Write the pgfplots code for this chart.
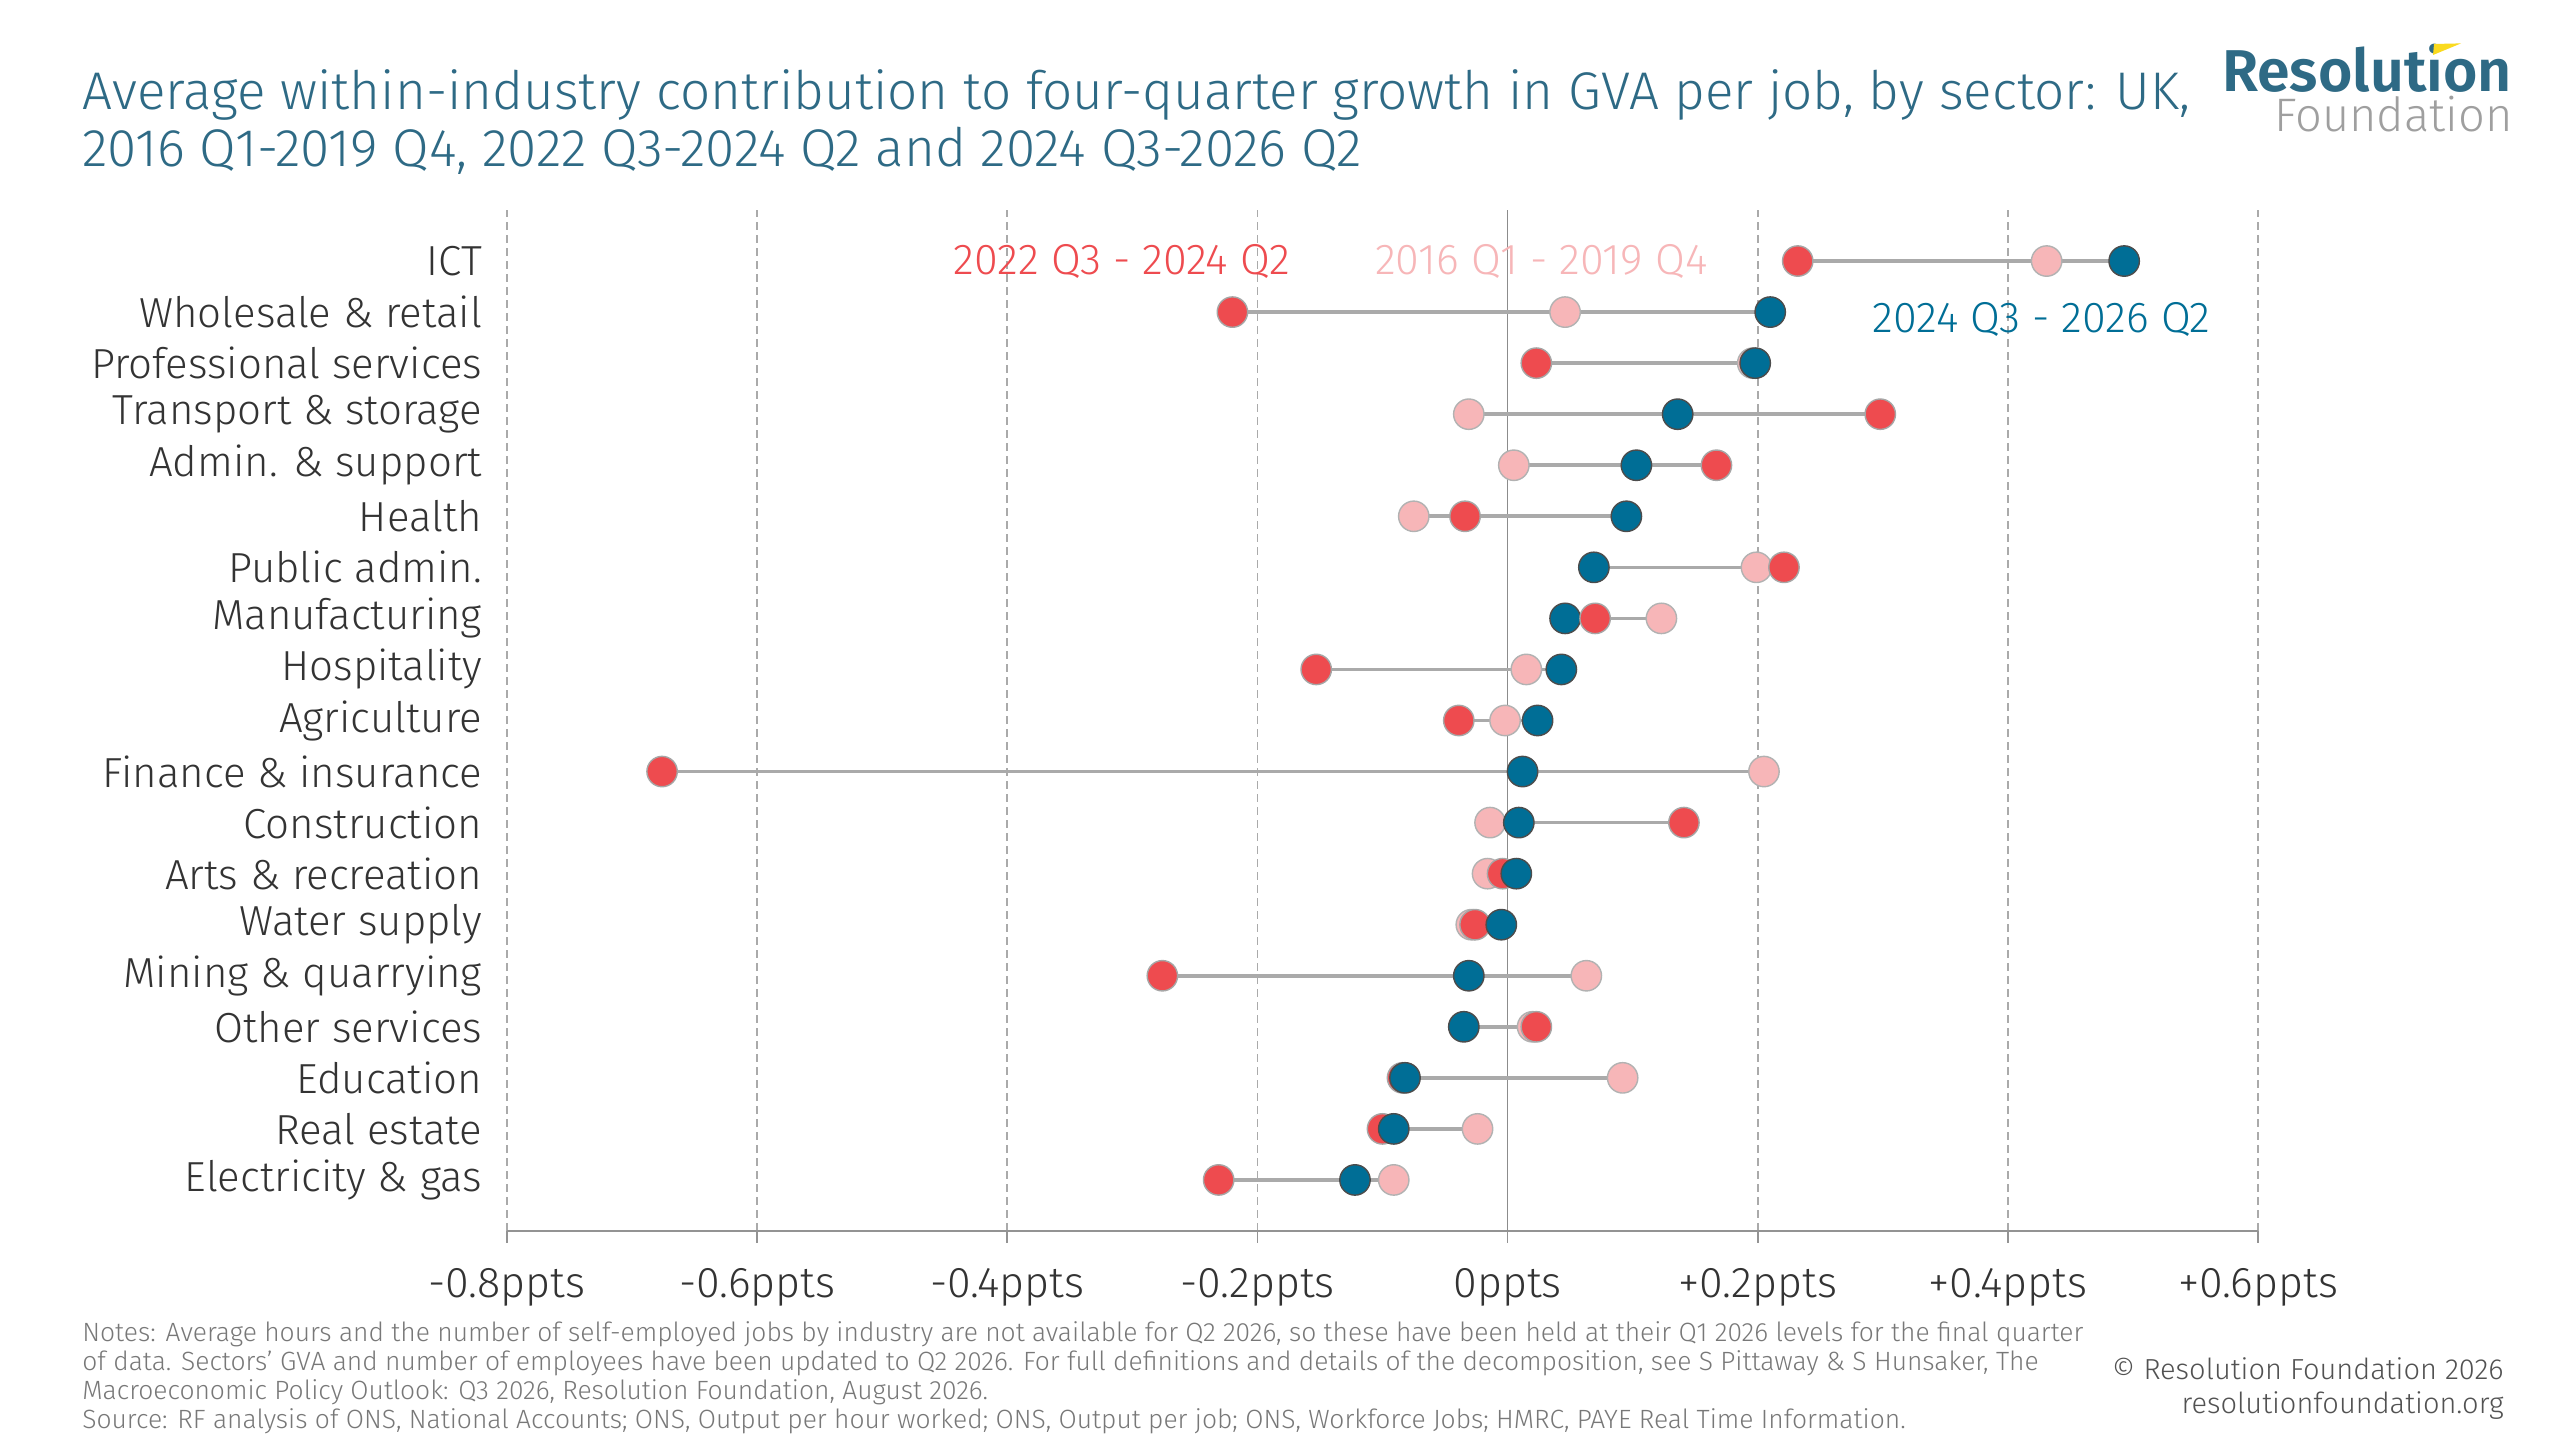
\documentclass[border=0pt]{standalone}
\usepackage{fontspec}
\setmainfont{Fira Sans Light}
\newfontfamily\logofont{Fira Sans SemiBold}
\usepackage{pgfplots}
\pgfplotsset{compat=1.18}
\usepackage{pgfplotstable}
\definecolor{redc}{RGB}{238,75,79}
\definecolor{pinkc}{RGB}{247,182,184}
\definecolor{bluec}{RGB}{0,110,150}
\definecolor{titlec}{RGB}{46,106,133}
\definecolor{txt}{RGB}{51,51,51}
\definecolor{notec}{RGB}{120,120,120}
\definecolor{gridc}{RGB}{170,170,170}
\definecolor{yellowc}{RGB}{250,218,30}

% x = contribution (ppts), y = row (ICT = 18 ... Electricity & gas = 0)
% p: a = 2016 Q1-2019 Q4, b = 2022 Q3-2024 Q2, c = 2024 Q3-2026 Q2
\pgfplotstableread{
x y p
0.232 18 b
0.431 18 a
0.493 18 c
nan nan a
-0.220 17 b
0.046 17 a
0.210 17 c
nan nan a
0.023 16 b
0.196 16 a
0.198 16 c
nan nan a
-0.031 15 a
0.136 15 c
0.298 15 b
nan nan a
0.005 14 a
0.103 14 c
0.167 14 b
nan nan a
-0.075 13 a
-0.034 13 b
0.095 13 c
nan nan a
0.069 12 c
0.199 12 a
0.221 12 b
nan nan a
0.046 11 c
0.070 11 b
0.123 11 a
nan nan a
-0.153 10 b
0.015 10 a
0.043 10 c
nan nan a
-0.039 9 b
-0.002 9 a
0.024 9 c
nan nan a
-0.676 8 b
0.012 8 c
0.205 8 a
nan nan a
-0.014 7 a
0.009 7 c
0.141 7 b
nan nan a
-0.016 6 a
-0.004 6 b
0.007 6 c
nan nan a
-0.029 5 a
-0.026 5 b
-0.005 5 c
nan nan a
-0.276 4 b
-0.031 4 c
0.063 4 a
nan nan a
-0.035 3 c
0.020 3 a
0.023 3 b
nan nan a
-0.084 2 b
-0.082 2 c
0.092 2 a
nan nan a
-0.100 1 b
-0.091 1 c
-0.024 1 a
nan nan a
-0.231 0 b
-0.122 0 c
-0.091 0 a
}\sectordata

\begin{document}
\begin{tikzpicture}[x=1pt,y=1pt]
\path[fill=white] (0,0) rectangle (1280,720);
% title
\node[anchor=base west, inner sep=0pt, text=titlec, font=\fontsize{26.5}{30}\selectfont] at (41,665)
  {Average within-industry contribution to four-quarter growth in GVA per job, by sector: UK,};
\node[anchor=base west, inner sep=0pt, text=titlec, font=\fontsize{26.5}{30}\selectfont] at (41,636.7)
  {2016 Q1-2019 Q4, 2022 Q3-2024 Q2 and 2024 Q3-2026 Q2};
% logo
\node[anchor=base east, inner sep=0pt, text depth=0pt, text=titlec, font=\logofont\fontsize{29.5}{31}\selectfont] at (1256,674.2) {Resolution};
\node[anchor=base east, inner sep=0pt, text depth=0pt, text height=16.5pt, text=gray!75, font=\fontsize{23.5}{26}\selectfont] at (1256.5,654.2) {Foundation};
\fill[yellowc] (1217,698) -- (1230.5,698.3) -- (1216.5,692.5) -- cycle;

\begin{axis}[
  at={(253.5pt,104.5pt)}, anchor=south west,
  scale only axis, width=875.5pt, height=510.5pt,
  xmin=-0.8, xmax=0.6, ymin=-1, ymax=19,
  clip=false,
  separate axis lines,
  axis x line*=bottom,
  axis y line*=left,
  y axis line style={draw=none},
  x axis line style={draw=gray!85, line width=1pt},
  xtick={-0.8,-0.6,-0.4,-0.2,0,0.2,0.4,0.6},
  xticklabels={-0.8ppts,-0.6ppts,-0.4ppts,-0.2ppts,0ppts,+0.2ppts,+0.4ppts,+0.6ppts},
  xtick align=outside,
  major tick length=6pt,
  x tick style={draw=gray!85, line width=0.8pt},
  xticklabel style={font=\fontsize{21.5}{24}\selectfont, text=txt, inner sep=0pt, yshift=-12.5pt},
  ytick={0,...,18},
  yticklabels={Electricity \& gas, Real estate, Education, Other services, Mining \& quarrying, Water supply, Arts \& recreation, Construction, Finance \& insurance, Agriculture, Hospitality, Manufacturing, Public admin., Health, Admin. \& support, Transport \& storage, Professional services, Wholesale \& retail, ICT},
  y tick style={draw=none},
  yticklabel style={font=\fontsize{21}{24}\selectfont, text=txt, anchor=east, inner sep=0pt, xshift=-12.3pt},
  xmajorgrids,
  major grid style={draw=gridc, line width=0.8pt, dash pattern=on 4pt off 2.5pt},
  extra x ticks={0},
  extra x tick labels={},
  extra x tick style={grid=major, major grid style={draw=gray!90, solid, line width=0.9pt}, tick style={draw=none}},
]
\addplot[no markers, draw=gridc, line width=1.8pt, unbounded coords=jump] table[x=x, y=y] {\sectordata};
\addplot[scatter, only marks, scatter src=explicit symbolic,
  scatter/classes={
    a={mark=*, mark size=7.6pt, fill=pinkc, draw=gray!60, line width=0.7pt},
    b={mark=*, mark size=7.6pt, fill=redc, draw=gray!70, line width=0.7pt},
    c={mark=*, mark size=7.6pt, fill=bluec, draw=black!70, line width=0.7pt}}]
  table[x=x, y=y, meta=p] {\sectordata};
\node[text=redc, font=\fontsize{21.6}{24}\selectfont] at (axis cs:-0.3085,18) {2022 Q3 - 2024 Q2};
\node[text=pinkc, font=\fontsize{21.6}{24}\selectfont] at (axis cs:0.027,18) {2016 Q1 - 2019 Q4};
\node[text=bluec, font=\fontsize{21.6}{24}\selectfont] at (axis cs:0.427,16.86) {2024 Q3 - 2026 Q2};
\end{axis}

% notes
\begin{scope}[every node/.style={anchor=base west, inner sep=0pt, text=notec, font=\fontsize{13.2}{15}\selectfont}]
\node at (41,49) {Notes: Average hours and the number of self-employed jobs by industry are not available for Q2 2026, so these have been held at their Q1 2026 levels for the final quarter};
\node at (41,34.5) {of data. Sectors’ GVA and number of employees have been updated to Q2 2026. For full definitions and details of the decomposition, see S Pittaway \& S Hunsaker, The};
\node at (41,20) {Macroeconomic Policy Outlook: Q3 2026, Resolution Foundation, August 2026.};
\node at (41,5.5) {Source: RF analysis of ONS, National Accounts; ONS, Output per hour worked; ONS, Output per job; ONS, Workforce Jobs; HMRC, PAYE Real Time Information.};
\end{scope}
\node[anchor=base east, inner sep=0pt, text=txt!85, font=\fontsize{14.5}{17}\selectfont] at (1252,30) {© Resolution Foundation 2026};
\node[anchor=base east, inner sep=0pt, text=txt!85, font=\fontsize{14.5}{17}\selectfont] at (1252,13) {resolutionfoundation.org};
\end{tikzpicture}
\end{document}
